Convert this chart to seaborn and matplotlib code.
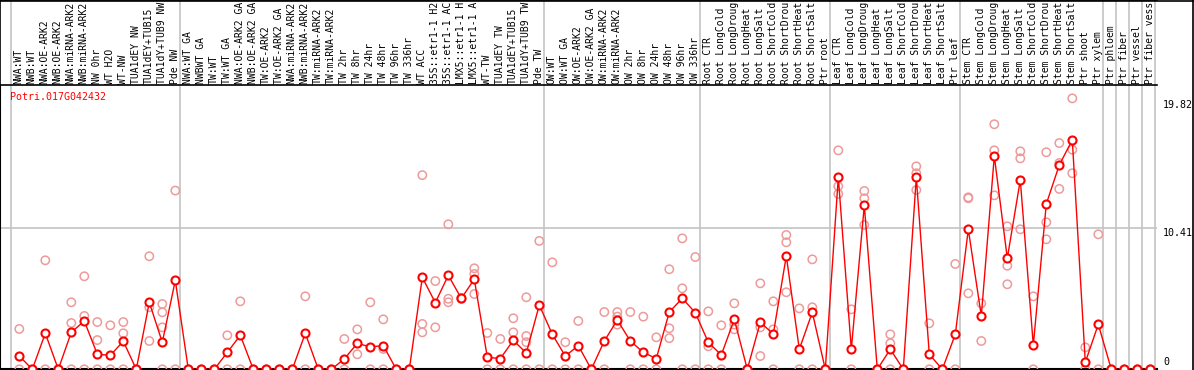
import matplotlib
matplotlib.use("Agg")
import matplotlib.pyplot as plt
import matplotlib.transforms as mtrans
from matplotlib.lines import Line2D
import seaborn as sns
import pandas as pd

gene_id = "Potri.017G042432"

samples = [
    "NWA:WT", "NWB:WT", "NWA:OE-ARK2", "NWB:OE-ARK2", "NWA:miRNA-ARK2",
    "NWB:miRNA-ARK2", "NW 0hr", "WT H2O", "WT-NW", "TUA1dEY NW",
    "TUA1dEY+TUB15", "TUA1dY+TUB9 NW", "Pde NW",
    "NWA:WT GA", "NWBWT GA", "TW:WT", "TW:WT GA", "NWA:OE-ARK2 GA",
    "NWB:OE-ARK2 GA", "TW:OE-ARK2", "TW:OE-ARK2 GA", "NWA:miRNA-ARK2",
    "NWB:miRNA-ARK2", "TW:miRNA-ARK2", "TW:miRNA-ARK2", "TW 2hr", "TW 8hr",
    "TW 24hr", "TW 48hr", "TW 96hr", "TW 336hr", "WT ACC", "35S::etr1-1 H2O",
    "35S::etr1-1 ACC", "LMX5::etr1-1 H2O", "LMX5::etr1-1 ACC", "WT-TW",
    "TUA1dEY TW", "TUA1dEY+TUB15", "TUA1dY+TUB9 TW", "Pde TW",
    "OW:WT", "OW:WT GA", "OW:OE-ARK2", "OW:OE-ARK2 GA", "OW:miRNA-ARK2",
    "OW:miRNA-ARK2", "OW 2hr", "OW 8hr", "OW 24hr", "OW 48hr", "OW 96hr",
    "OW 336hr",
    "Root CTR", "Root LongCold", "Root LongDrought", "Root LongHeat",
    "Root LongSalt", "Root ShortCold", "Root ShortDrought", "Root ShortHeat",
    "Root ShortSalt", "Ptr root",
    "Leaf CTR", "Leaf LongCold", "Leaf LongDrought", "Leaf LongHeat",
    "Leaf LongSalt", "Leaf ShortCold", "Leaf ShortDrought", "Leaf ShortHeat",
    "Leaf ShortSalt", "Ptr leaf",
    "Stem CTR", "Stem LongCold", "Stem LongDrought", "Stem LongHeat",
    "Stem LongSalt", "Stem ShortCold", "Stem ShortDrought", "Stem ShortHeat",
    "Stem ShortSalt", "Ptr shoot", "Ptr xylem",
    "Ptr phloem", "Ptr fiber", "Ptr vessel", "Ptr fiber vessel",
]

# last sample of each group (a grey separator follows it)
group_ends = [-1, 12, 40, 52, 62, 72, 83, 84, 85, 86, 87]

means = [
    0.98, 0, 2.66, 0, 2.73, 3.57, 1.11, 1.03, 2.07, 0, 4.95, 1.99, 6.57,
    0, 0, 0, 1.25, 2.51, 0, 0, 0, 0, 2.66, 0, 0, 0.76, 1.92, 1.65, 1.75,
    0, 0, 6.79, 4.92, 6.94, 5.24, 6.65, 0.89, 0.79, 2.14, 1.20, 4.75,
    2.58, 0.98, 1.75, 0, 2.09, 3.64, 2.09, 1.25, 0.79, 4.23, 5.24, 4.18,
    1.99, 1.06, 3.69, 0, 3.47, 2.61, 8.37, 1.48, 4.21, 0,
    14.18, 1.48, 12.11, 0, 1.48, 0, 14.18, 1.11, 0, 2.58,
    10.34, 3.94, 15.75, 8.2, 13.98, 1.77, 12.21, 15.09, 16.94, 0.52, 3.32,
    0, 0, 0, 0,
]

replicates = [
    [2.98, 0], [0], [8.05, 0], [0], [4.95, 3.42, 0], [6.87, 3.94, 0],
    [3.49, 2.16, 0], [3.25, 0], [3.49, 2.66, 0], [0], [8.35, 4.58, 2.09],
    [4.82, 4.21, 3.1, 0], [13.2, 0],
    [0], [0], [0], [2.51, 0], [5.02, 0], [0], [0], [0], [0], [5.39, 0],
    [0], [0], [2.24, 0], [2.95, 1.11], [4.95, 0], [3.69, 1.5, 0], [0], [0],
    [14.34, 3.35, 2.73], [6.52, 3.1], [10.71, 5.21, 4.95], [5.27, 5.2],
    [7.46, 7.04, 5.56], [2.68, 0], [2.24, 0], [3.77, 2.73, 0],
    [5.32, 2.46, 2.0, 0], [9.48, 0],
    [7.9, 0], [2.0, 0], [3.57, 0], [0], [4.23, 0], [4.23, 3.89, 3.3],
    [4.23, 0], [3.89, 0], [2.36, 0], [7.39, 3.03, 2.3], [9.67, 5.98, 0],
    [8.29, 0],
    [4.28, 1.7, 0], [3.25, 0], [4.87, 3.3, 2.95], [0], [6.35, 3.1, 0.98],
    [5.02, 2.95, 0], [9.92, 9.38, 5.69], [4.5, 0], [8.12, 4.58, 0], [0],
    [16.17, 13.52, 12.95], [4.43, 0], [13.17, 12.63, 10.66], [0],
    [2.58, 1.92, 0], [0], [14.99, 14.48, 13.24], [3.4, 0], [0], [7.78, 0],
    [12.7, 12.63, 5.61], [4.87, 2.09], [18.1, 16.17, 12.85],
    [10.56, 7.65, 6.28], [16.1, 15.58, 10.34], [5.39, 0],
    [16.03, 10.86, 9.6], [16.71, 15.24, 13.32], [20.01, 16.22, 14.48],
    [1.62, 0], [9.97, 0],
    [0], [0], [0], [0],
]

y_tick_values = [0, 10.41, 19.82]
y_tick_labels = ["0", "10.41", "19.82"]

W, H = 1194, 370
MONO = "DejaVu Sans Mono"
GREY = "#c4c4c4"
PINK = "#ee9a9a"
LABEL_CHARS = 14  # the header only has room for 14 characters

sns.set_style("white")

mean_df = pd.DataFrame({"col": range(len(means)), "value": means})
rep_df = pd.DataFrame(
    [(i, v) for i, vals in enumerate(replicates) for v in vals],
    columns=["col", "value"],
)

fig = plt.figure(figsize=(W / 100, H / 100), dpi=100)
x_left = -19.3 / 13
x_right = (1157 - 19.3) / 13
plot_w = 1157 / W
ax = fig.add_axes([0, 0.7 / H, plot_w, (369.3 - 85) / H])
hx = fig.add_axes([0, (H - 85) / H, plot_w, 85 / H])

# replicate points and the mean line
sns.scatterplot(data=rep_df, x="col", y="value", ax=ax, s=36, marker="o",
                fc="none", ec=PINK, linewidth=1.1, zorder=3, legend=False)
sns.lineplot(data=mean_df, x="col", y="value", ax=ax, color="red", lw=1,
             marker="o", ms=5.8, mfc="white", mec="red", mew=1.5, zorder=4)

ax.set_xlim(x_left, x_right)
ax.set_ylim(0, (369.3 - 85) / 13.54)
ax.axhline(y_tick_values[1], color=GREY, lw=1.2, zorder=1)
for g in group_ends:
    ax.axvline(g + 0.38, color=GREY, lw=1.2, zorder=1)
    hx.axvline(g + 0.38, color=GREY, lw=1.2, zorder=1)

ax.set_xticks([])
ax.set_yticks([])
ax.set_xlabel("")
ax.set_ylabel("")
for side in ["top", "right"]:
    ax.spines[side].set_visible(False)
ax.spines["left"].set_linewidth(1.5)
ax.spines["bottom"].set_linewidth(1.5)
for s in ax.spines.values():
    s.set_color("black")

# header with rotated sample names
hx.set_xlim(x_left, x_right)
hx.set_ylim(85, 0)
hx.set_xticks([])
hx.set_yticks([])
hx.spines["right"].set_visible(False)
for s in hx.spines.values():
    s.set_color("black")
    s.set_linewidth(1.2)
for i, name in enumerate(samples):
    hx.text(i - 0.05, 83.5, name[:LABEL_CHARS], rotation=90, ha="center",
            va="bottom", family=MONO, fontsize=7.05, color="black",
            clip_on=True)

# outer frame
fig.add_artist(Line2D([0, 1], [1 - 0.5 / H, 1 - 0.5 / H], color="black",
                      lw=1.2, transform=fig.transFigure))
fig.add_artist(Line2D([1 - 1.5 / W, 1 - 1.5 / W], [0, 1], color="black",
                      lw=1.2, transform=fig.transFigure))

# value labels on the right
tr = mtrans.blended_transform_factory(fig.transFigure, ax.transData)
for v, lab in zip(y_tick_values, y_tick_labels):
    va = "bottom" if v == 0 else "top"
    yv = v + 0.15 if v == 0 else v + 0.05
    ax.text(1163 / W, yv, lab, transform=tr, ha="left", va=va,
            family=MONO, fontsize=7.2, color="black", clip_on=False)

fig.text(10 / W, 1 - 97 / H, gene_id, ha="left", va="center",
         family=MONO, fontsize=7.2, color="red")

fig.savefig("out.png", dpi=100)
